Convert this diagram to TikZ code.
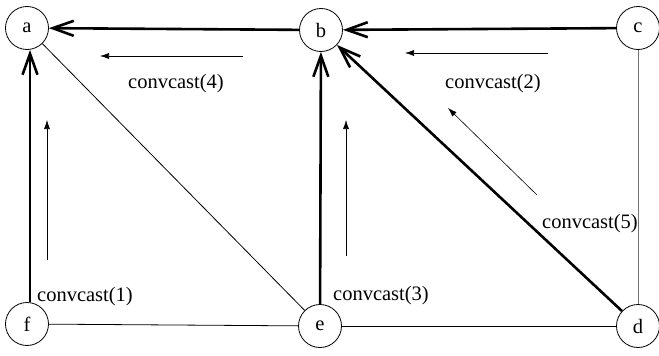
\documentclass[tikz,border=0pt]{standalone}
\usepackage{fontspec}
\setmainfont{Liberation Serif}
\usepackage{tikz}
\usetikzlibrary{arrows.meta}
\tikzset{
  vertex/.style={draw, circle, minimum size=43pt, inner sep=0pt, line width=0.8pt},
  strong/.style={-{Straight Barb[length=21pt,width=15pt]}, line width=2.6pt},
  weak/.style={line width=0.8pt},
  hint/.style={-{Latex[length=9pt,width=6pt]}, line width=0.6pt},
  lbl/.style={inner sep=0pt}
}

\begin{document}
\begin{tikzpicture}[x=1pt, y=-1pt, font=\fontsize{20.5}{24}\selectfont]
  \useasboundingbox (0,0) rectangle (659,356);
  \node[vertex] (a) at (27,28) {a};
  \node[vertex] (b) at (321,30) {b};
  \node[vertex] (c) at (638,28) {c};
  \node[vertex] (f) at (27,324) {f};
  \node[vertex] (e) at (320,326) {e};
  \node[vertex] (d) at (638,326) {d};

  % plain edges
  \draw[weak] (a) -- (e);
  \draw[weak] (f) -- (e);
  \draw[weak] (e) -- (d);
  \draw[weak, draw=black!55] (c) -- (d);

  % convcast edges
  \draw[strong] (b) -- (a);
  \draw[strong] (c) -- (b);
  \draw[strong] (f.north -| 30,0) -- (a.south -| 30,0);
  \draw[strong] (e) -- (b);
  \draw[strong] (d) -- (b);

  % direction hints
  \coordinate (h4s) at (243,56);  \coordinate (h4e) at (100,56);
  \coordinate (h2s) at (548,53);  \coordinate (h2e) at (405,53);
  \coordinate (h1s) at (47,260);  \coordinate (h1e) at (47,120);
  \coordinate (h3s) at (346,256); \coordinate (h3e) at (346,120);
  \coordinate (h5s) at (537,195); \coordinate (h5e) at (448,108);
  \draw[hint] (h4s) -- (h4e);
  \draw[hint] (h2s) -- (h2e);
  \draw[hint] (h1s) -- (h1e);
  \draw[hint] (h3s) -- (h3e);
  \draw[hint] (h5s) -- (h5e);

  \node[lbl] (l4) at (176,84) {convcast(4)};
  \node[lbl] (l2) at (493,84) {convcast(2)};
  \node[lbl] (l1) at (85,297) {convcast(1)};
  \node[lbl] (l3) at (381,296) {convcast(3)};
  \node[lbl] (l5) at (590,224) {convcast(5)};
\end{tikzpicture}
\end{document}
